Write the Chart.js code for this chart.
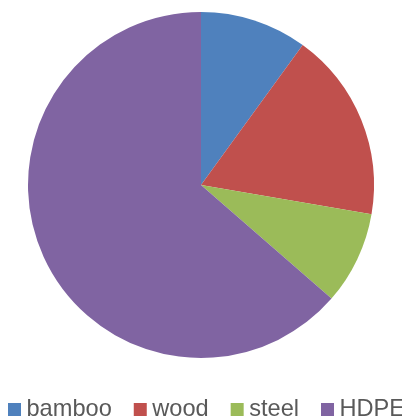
<!DOCTYPE html>
<html>
<head>
<meta charset="utf-8">
<script src="https://cdn.jsdelivr.net/npm/chart.js@4"></script>
<style>
  html, body { margin: 0; padding: 0; background: #fff; }
  #wrap { width: 402px; height: 417px; position: relative; }
</style>
</head>
<body>
<div id="wrap"><canvas id="c"></canvas></div>
<script>
const materials = ["bamboo", "wood", "steel", "HDPE"]
const shares = [10.0, 17.7, 8.7, 63.6]
const sliceColors = ["#4F81BD", "#C0504D", "#9BBB59", "#8064A2"]

// legend drawn by hand so it can run off the edge like the original
const legendPlugin = {
  id: 'bottomLegend',
  afterDraw(chart) {
    const ctx = chart.ctx
    ctx.save()
    ctx.font = "23.6px 'Liberation Sans', Arial, sans-serif"
    ctx.textBaseline = "alphabetic"
    let x = 8
    const baseY = 416
    materials.forEach((name, i) => {
      ctx.fillStyle = sliceColors[i]
      ctx.fillRect(x, 403, 13, 13)
      x += 18.5
      ctx.fillStyle = "#595959"
      ctx.fillText(name, x, baseY)
      x += ctx.measureText(name).width + 22
    })
    ctx.restore()
  }
}

new Chart(document.getElementById("c"), {
  type: "pie",
  data: {
    labels: materials,
    datasets: [{
      data: shares,
      backgroundColor: sliceColors,
      borderWidth: 0
    }]
  },
  options: {
    responsive: true,
    maintainAspectRatio: false,
    animation: false,
    layout: { padding: { top: 12, bottom: 59, left: 0, right: 0 } },
    plugins: {
      legend: { display: false },
      tooltip: { enabled: false }
    }
  },
  plugins: [legendPlugin]
})
</script>
</body>
</html>
